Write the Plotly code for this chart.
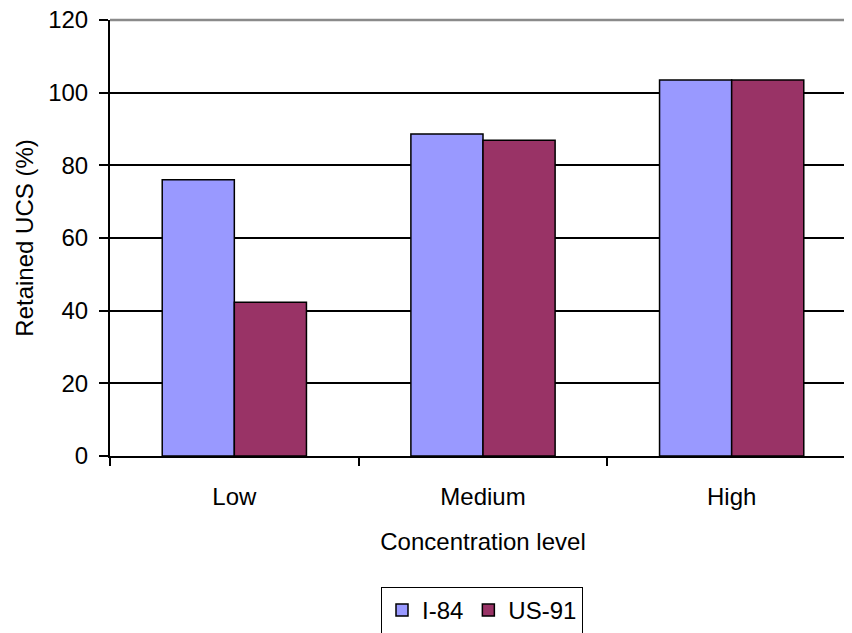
import plotly.graph_objects as go

categories = ["Low", "Medium", "High"]
series_names = ["I-84", "US-91"]
i84_values = [76.0, 88.6, 103.5]
us91_values = [42.3, 86.9, 103.5]
series_colors = ["#9999FF", "#993366"]
y_ticks = [0, 20, 40, 60, 80, 100, 120]

FONT = "Liberation Sans, Arial, sans-serif"
FS = 24

fig = go.Figure()
for name, vals, col in zip(series_names, [i84_values, us91_values], series_colors):
    fig.add_trace(go.Bar(
        x=categories, y=vals, name=name,
        marker=dict(color=col, line=dict(color="black", width=1.5)),
    ))

fig.update_layout(
    width=852, height=633,
    margin=dict(l=102, r=4, t=12, b=185),
    paper_bgcolor="white", plot_bgcolor="white",
    barmode="group", bargap=0.42, bargroupgap=0,
    font=dict(family=FONT, size=FS, color="black"),
    showlegend=True,
    legend=dict(
        orientation="h", xref="container", yref="container",
        x=474/852, xanchor="center", y=1-579/633, yanchor="top",
        bordercolor="black", borderwidth=1, bgcolor="white",
        font=dict(size=FS), itemwidth=30, tracegroupgap=0,
    ),
    xaxis=dict(
        range=[-0.5, 2.5], type="category", automargin=False,
        showline=True, linecolor="black", linewidth=2,
        ticks="outside", tickson="boundaries", ticklen=8, tickwidth=2, tickcolor="black",
        ticklabelstandoff=18, showgrid=False,
        title=dict(text="Concentration level", standoff=24, font=dict(size=FS)),
    ),
    yaxis=dict(
        range=[0, 120], tickvals=y_ticks, automargin=False,
        showline=True, linecolor="black", linewidth=2,
        ticks="outside", ticklen=9, tickwidth=2, tickcolor="black",
        ticklabelstandoff=6, ticklabeloverflow="allow",
        showgrid=True, gridcolor="black", gridwidth=1.5,
        zeroline=False,
        title=dict(text="Retained UCS (%)", standoff=8, font=dict(size=FS)),
    ),
)

fig.add_shape(type="line", xref="paper", yref="paper", x0=0, x1=1, y0=1, y1=1,
              line=dict(color="#8a8a8a", width=2.5), layer="above")

fig.write_html("out.html")
